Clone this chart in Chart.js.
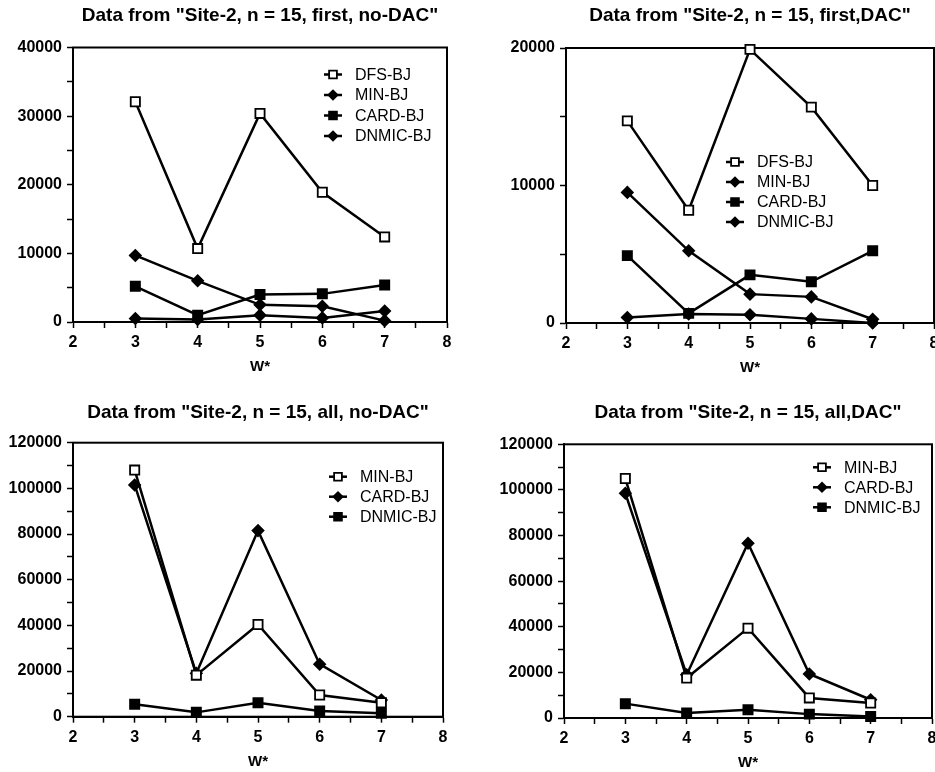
<!DOCTYPE html>
<html>
<head>
<meta charset="utf-8">
<script src="https://cdn.jsdelivr.net/npm/chart.js@4"></script>
<style>
html, body { margin:0; padding:0; background:#fff; overflow:hidden; width:935px; height:772px; }
.panel { position:absolute; }
</style>
</head>
<body>
<div class="panel" style="left:0;top:0;width:480px;height:376px"><canvas id="c1"></canvas></div>
<div class="panel" style="left:465px;top:0;width:480px;height:377px"><canvas id="c2"></canvas></div>
<div class="panel" style="left:0;top:380px;width:480px;height:392px"><canvas id="c3"></canvas></div>
<div class="panel" style="left:465px;top:380px;width:480px;height:392px"><canvas id="c4"></canvas></div>
<script>
// W* values on the x axis
const wValues = [3, 4, 5, 6, 7];
const xTickLabels = [2, 3, 4, 5, 6, 7, 8];

// "first, no-DAC"
const firstNoDacDFS   = [32100, 10700, 30400, 18900, 12400];
const firstNoDacMIN   = [9700, 6000, 2500, 2300, 200];
const firstNoDacCARD  = [5200, 1000, 4000, 4100, 5400];
const firstNoDacDNMIC = [500, 350, 1000, 600, 1600];
const firstNoDacTicks = [0, 10000, 20000, 30000, 40000];

// "first, DAC"
const firstDacDFS   = [14700, 8200, 19900, 15700, 10000];
const firstDacMIN   = [9500, 5250, 2100, 1900, 270];
const firstDacCARD  = [4900, 700, 3500, 3000, 5250];
const firstDacDNMIC = [400, 650, 600, 300, 0];
const firstDacTicks = [0, 10000, 20000];

// "all, no-DAC"
const allNoDacMIN   = [108000, 18200, 40400, 9500, 6100];
const allNoDacCARD  = [101500, 19000, 81500, 23000, 7300];
const allNoDacDNMIC = [5500, 1900, 6100, 2500, 1500];

// "all, DAC"
const allDacMIN   = [105000, 17500, 39400, 8800, 6600];
const allDacCARD  = [98500, 19000, 76600, 19300, 8000];
const allDacDNMIC = [6300, 2200, 3600, 1700, 700];
const allTicks = [0, 20000, 40000, 60000, 80000, 100000, 120000];

Chart.defaults.font.family = '"Liberation Sans", Arial, sans-serif';
Chart.defaults.color = '#000';

const FONT = '"Liberation Sans", Arial, sans-serif';

// marker looks
const openSq  = { pointStyle: 'rect', bg: '#fff', r: 6.5 };
const fillSq  = { pointStyle: 'rect', bg: '#000', r: 6.5 };
const diamond = { pointStyle: 'rectRot', bg: '#000', r: 5.5 };

function withMinor(majors) {
  const out = [];
  majors.forEach((v, i) => {
    out.push(v);
    if (i < majors.length - 1) out.push((v + majors[i + 1]) / 2);
  });
  return out;
}

function series(label, values, look) {
  return {
    label: label,
    data: values.map((v, i) => ({ x: wValues[i], y: v })),
    borderColor: '#000',
    borderWidth: 2.5,
    pointStyle: look.pointStyle,
    pointRadius: look.r,
    pointBorderWidth: 1.8,
    pointBorderColor: '#000',
    pointBackgroundColor: look.bg,
    tension: 0,
    clip: 8
  };
}

// box round the plot area
const frameBox = {
  id: 'frameBox',
  beforeDatasetsDraw(chart) {
    const { ctx, chartArea: a } = chart;
    ctx.save();
    ctx.strokeStyle = '#000';
    ctx.lineWidth = 2;
    ctx.strokeRect(a.left, a.top, a.right - a.left, a.bottom - a.top);
    ctx.restore();
  }
};

// legend drawn inside the plot
const insideLegend = {
  id: 'insideLegend',
  afterDatasetsDraw(chart, args, opts) {
    const { ctx, chartArea } = chart;
    ctx.save();
    ctx.font = '16px ' + FONT;
    ctx.textBaseline = 'middle';
    chart.data.datasets.forEach((ds, i) => {
      const x = chartArea.left + opts.x;
      const y = chartArea.top + opts.y + i * opts.gap;
      ctx.strokeStyle = '#000';
      ctx.lineWidth = 2.5;
      ctx.beginPath();
      ctx.moveTo(x - 9, y);
      ctx.lineTo(x + 9, y);
      ctx.stroke();
      ctx.fillStyle = ds.pointBackgroundColor;
      ctx.lineWidth = 1.8;
      Chart.helpers.drawPoint(ctx, { pointStyle: ds.pointStyle, radius: ds.pointRadius - 1, rotation: 0, borderWidth: 1.8 }, x, y);
      ctx.fillStyle = '#000';
      ctx.fillText(ds.label, x + 22, y + 1);
    });
    ctx.restore();
  }
};

function makeChart(id, title, datasets, yTicks, g) {
  const xAll = withMinor(xTickLabels);
  const yAll = withMinor(yTicks);
  return new Chart(document.getElementById(id), {
    type: 'line',
    data: { datasets: datasets },
    options: {
      responsive: true,
      maintainAspectRatio: false,
      animation: false,
      events: [],
      layout: { padding: { left: 0, right: g.padRight, top: 0, bottom: g.padBottom } },
      plugins: {
        legend: { display: false },
        tooltip: { enabled: false },
        title: {
          display: true,
          text: title,
          fullSize: false,
          font: { size: 19, weight: 'bold' },
          color: '#000',
          padding: { top: g.titleTop, bottom: g.titleBottom }
        },
        insideLegend: g.legend
      },
      scales: {
        x: {
          type: 'linear',
          min: xTickLabels[0],
          max: xTickLabels[xTickLabels.length - 1],
          afterBuildTicks: s => { s.ticks = xAll.map(v => ({ value: v })); },
          afterFit: s => { s.height = g.xHeight; },
          ticks: {
            autoSkip: false, maxRotation: 0, padding: 5,
            font: { size: 16, weight: 'bold' }, color: '#000',
            callback: v => xTickLabels.includes(v) ? String(v) : ''
          },
          grid: { drawOnChartArea: false, tickLength: 6, tickColor: '#000', tickWidth: 1.5 },
          border: { color: '#000', width: 2 },
          title: {
            display: true, text: 'W*', color: '#000',
            font: { size: 15, weight: 'bold' }, padding: { top: 0, bottom: 0 }
          }
        },
        y: {
          min: yTicks[0],
          max: yTicks[yTicks.length - 1],
          afterBuildTicks: s => { s.ticks = yAll.map(v => ({ value: v })); },
          afterFit: s => { s.width = g.yWidth; },
          ticks: {
            autoSkip: false, padding: 5,
            font: { size: 16, weight: 'bold' }, color: '#000',
            callback: v => yTicks.includes(v) ? String(v) : ''
          },
          grid: { drawOnChartArea: false, tickLength: 6, tickColor: '#000', tickWidth: 1.5 },
          border: { color: '#000', width: 2 }
        }
      }
    },
    plugins: [frameBox, insideLegend]
  });
}

makeChart('c1', 'Data from "Site-2, n = 15, first, no-DAC"', [
  series('DFS-BJ', firstNoDacDFS, openSq),
  series('MIN-BJ', firstNoDacMIN, diamond),
  series('CARD-BJ', firstNoDacCARD, fillSq),
  series('DNMIC-BJ', firstNoDacDNMIC, diamond)
], firstNoDacTicks, { padRight: 33, padBottom: 0, titleTop: 4, titleBottom: 20.7, yWidth: 73, xHeight: 54,
  legend: { x: 260, y: 27, gap: 20.5 } });

makeChart('c2', 'Data from "Site-2, n = 15, first,DAC"', [
  series('DFS-BJ', firstDacDFS, openSq),
  series('MIN-BJ', firstDacMIN, diamond),
  series('CARD-BJ', firstDacCARD, fillSq),
  series('DNMIC-BJ', firstDacDNMIC, diamond)
], firstDacTicks, { padRight: 11, padBottom: 0, titleTop: 4, titleBottom: 21.2, yWidth: 101, xHeight: 54,
  legend: { x: 169, y: 114, gap: 20 } });

makeChart('c3', 'Data from "Site-2, n = 15, all, no-DAC"', [
  series('MIN-BJ', allNoDacMIN, openSq),
  series('CARD-BJ', allNoDacCARD, diamond),
  series('DNMIC-BJ', allNoDacDNMIC, fillSq)
], allTicks, { padRight: 37, padBottom: 1.3, titleTop: 21.6, titleBottom: 18.3, yWidth: 73, xHeight: 54,
  legend: { x: 265, y: 34, gap: 20 } });

makeChart('c4', 'Data from "Site-2, n = 15, all,DAC"', [
  series('MIN-BJ', allDacMIN, openSq),
  series('CARD-BJ', allDacCARD, diamond),
  series('DNMIC-BJ', allDacDNMIC, fillSq)
], allTicks, { padRight: 13, padBottom: 0, titleTop: 21.6, titleBottom: 19.9, yWidth: 99, xHeight: 54,
  legend: { x: 258, y: 23, gap: 20 } });
</script>
</body>
</html>
